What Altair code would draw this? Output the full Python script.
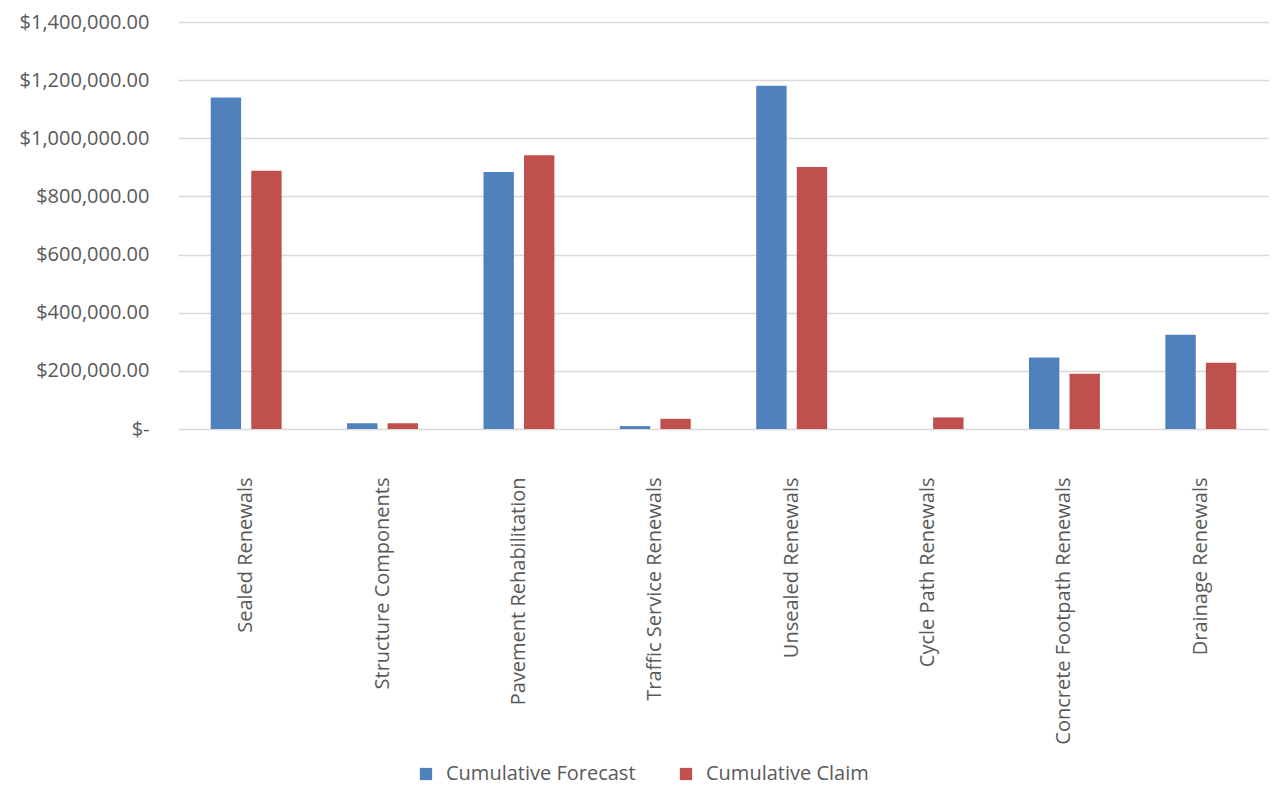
import altair as alt
import pandas as pd

categories = ["Sealed Renewals", "Structure Components", "Pavement Rehabilitation",
              "Traffic Service Renewals", "Unsealed Renewals", "Cycle Path Renewals",
              "Concrete Footpath Renewals", "Drainage Renewals"]
forecast = [1140000, 20000, 884000, 10000, 1181000, 0, 246000, 324000]
claim = [888000, 20000, 942000, 35000, 901000, 40000, 190000, 228000]
series = ["Cumulative Forecast", "Cumulative Claim"]
colors = ["#4f81bd", "#c0504d"]
y_ticks = [0, 200000, 400000, 600000, 800000, 1000000, 1200000, 1400000]

rows = []
for c, f, cl in zip(categories, forecast, claim):
    rows.append({"category": c, "series": series[0], "value": f})
    rows.append({"category": c, "series": series[1], "value": cl})
df = pd.DataFrame(rows)

FONT = "Open Sans"
GRAY = "#595959"
FS = 20

chart = alt.Chart(df).mark_bar().encode(
    x=alt.X("category:N", sort=categories, title=None,
            scale=alt.Scale(paddingInner=0.48, paddingOuter=0.24),
            axis=alt.Axis(labelAngle=270, labelAlign="right", labelBaseline="middle",
                          labelPadding=48, ticks=False, domain=False,
                          labelFontSize=FS, labelColor=GRAY, labelFont=FONT,
                          labelLimit=400)),
    xOffset=alt.XOffset("series:N", sort=series,
                        scale=alt.Scale(paddingInner=0.25, paddingOuter=0)),
    y=alt.Y("value:Q", title=None,
            scale=alt.Scale(domain=[0, 1400000], nice=False),
            axis=alt.Axis(values=y_ticks, ticks=False, domain=False,
                          labelExpr="datum.value == 0 ? '$-' : '$' + format(datum.value, ',.2f')",
                          labelPadding=29, labelFontSize=FS, labelColor=GRAY, labelFont=FONT,
                          gridColor="#d9d9d9", gridWidth=1.5)),
    color=alt.Color("series:N", sort=series,
                    scale=alt.Scale(domain=series, range=colors),
                    legend=alt.Legend(title=None, orient="none", direction="horizontal",
                                      legendX=238, legendY=742,
                                      symbolType="square", symbolSize=150,
                                      symbolStrokeWidth=0, labelLimit=400,
                                      labelFontSize=FS, labelColor=GRAY, labelFont=FONT,
                                      columnPadding=40, labelOffset=10)),
).properties(
    width=1091, height=407,
    autosize=alt.AutoSizeParams(type="none"),
    padding={"left": 170, "top": 14, "right": 0, "bottom": 370},
).configure_view(stroke=None)

chart.save("out.html", embed_options={"renderer": "svg", "actions": False})
